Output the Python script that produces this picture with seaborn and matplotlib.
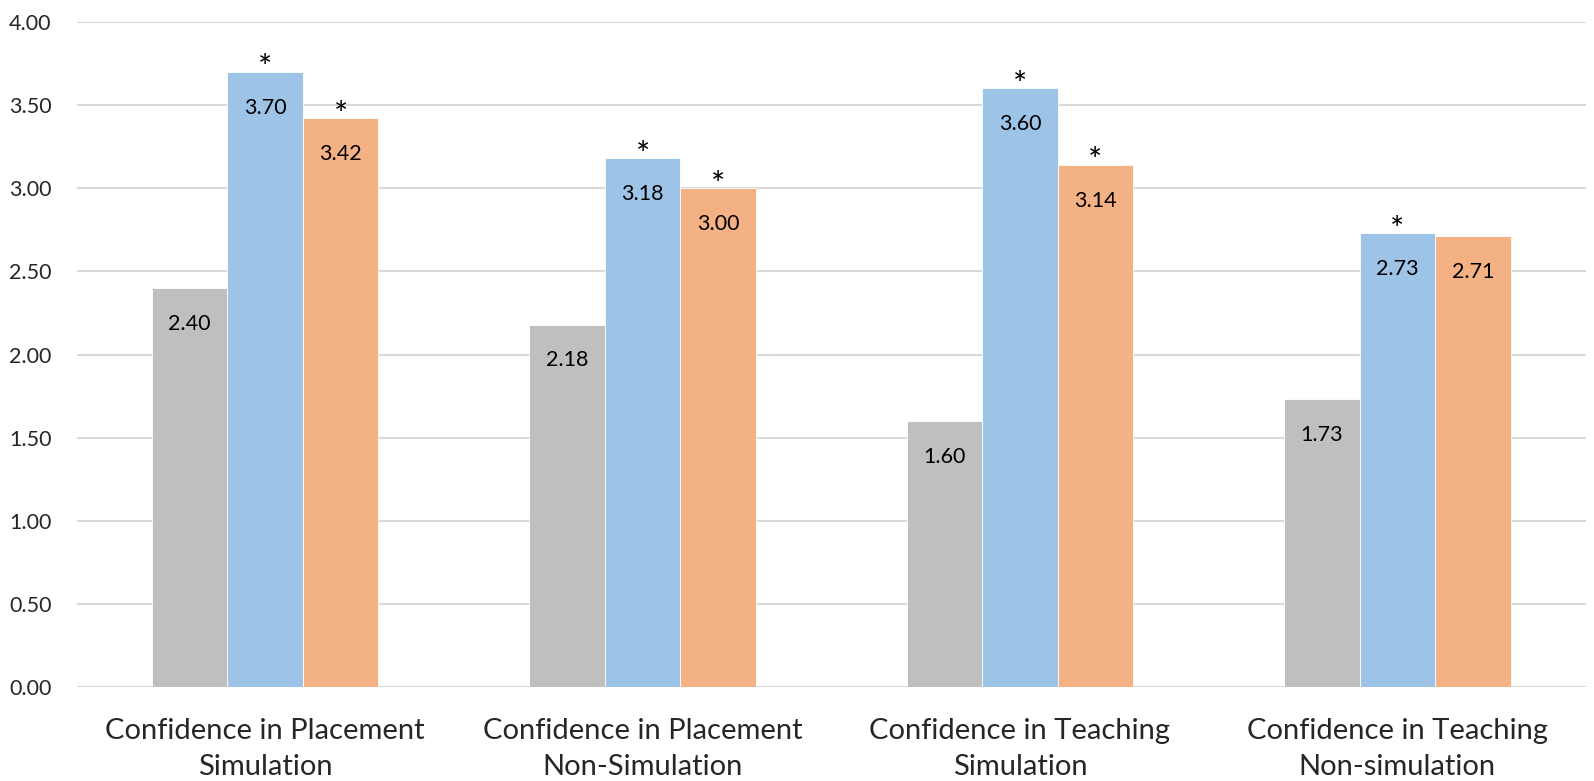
import pandas as pd
import numpy as np
import matplotlib.pyplot as plt
import seaborn as sns

# values
categories = [
    "Confidence in Placement\nSimulation",
    "Confidence in Placement\nNon-Simulation",
    "Confidence in Teaching\nSimulation",
    "Confidence in Teaching\nNon-simulation",
]
series = ["Series 1", "Series 2", "Series 3"]
series1 = [2.40, 2.18, 1.60, 1.73]
series2 = [3.70, 3.18, 3.60, 2.73]
series3 = [3.42, 3.00, 3.14, 2.71]
# significance markers (asterisk above bar)
stars2 = [True, True, True, True]
stars3 = [True, True, True, False]

colors = ["#BFBFBF", "#9DC3E6", "#F4B183"]

rows = []
for name, vals in zip(series, [series1, series2, series3]):
    for cat, v in zip(categories, vals):
        rows.append({"category": cat, "series": name, "value": v})
df = pd.DataFrame(rows)

sns.set_theme(style="white")
plt.rcParams['font.family'] = ['Lato', 'DejaVu Sans']

fig, ax = plt.subplots(figsize=(15.94, 7.81), dpi=100)
fig.subplots_adjust(left=0.048, right=0.995, top=0.972, bottom=0.12)

sns.barplot(data=df, x="category", y="value", hue="series", palette=colors,
            width=0.6, gap=0, legend=False, ax=ax, saturation=1,
            edgecolor="white", linewidth=0.6)

ax.set_ylim(0, 4.0)
ticks = np.arange(0, 4.01, 0.5)
ax.set_yticks(ticks)
ax.set_yticklabels([f"{t:.2f}" for t in ticks], fontsize=15.5)
ax.yaxis.grid(True, color="#D9D9D9", linewidth=1.5)
ax.set_axisbelow(True)
for s in ["left", "right", "top", "bottom"]:
    ax.spines[s].set_visible(False)
ax.tick_params(axis="y", length=0, pad=18)
ax.tick_params(axis="x", length=0, labelsize=21, pad=22)
for lbl in ax.get_xticklabels():
    lbl.set_linespacing(1.5)
ax.set_xlabel("")
ax.set_ylabel("")
ax.set_xlim(-0.5, 3.5)

# value labels inside bars near the top
for cont in ax.containers:
    ax.bar_label(cont, fmt="%.2f", label_type="edge", padding=-33,
                 fontsize=15.5, color="black")

# asterisks above bars
for cont, flags in zip(ax.containers[1:], [stars2, stars3]):
    labels = ["*" if f else "" for f in flags]
    ax.bar_label(cont, labels=labels, padding=-9, fontsize=24, color="black")

fig.savefig("out.png", dpi=100)
